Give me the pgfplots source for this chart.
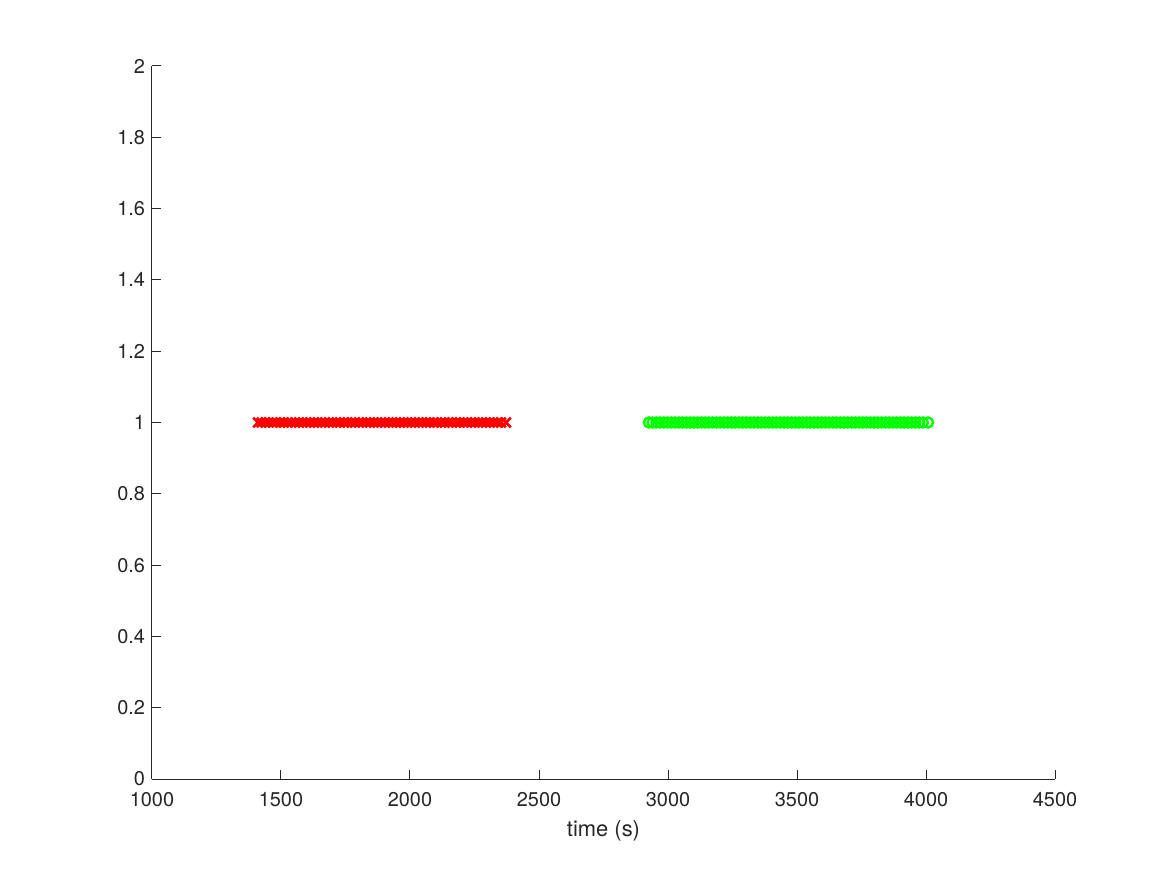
\documentclass[border=0pt]{standalone}
\usepackage{fontspec}
\setmainfont{TeX Gyre Heros}
\usepackage{pgfplots}
\pgfplotsset{compat=1.18}
\definecolor{axgray}{rgb}{0.15,0.15,0.15}
\definecolor{mred}{rgb}{1,0,0}
\definecolor{mgreen}{rgb}{0,1,0}
\begin{document}
\begin{tikzpicture}
\begin{axis}[
	scale only axis,
	width=451.5bp, height=356.5bp,
	xmin=1000, xmax=4500,
	ymin=0, ymax=2,
	xtick={1000,1500,...,4500},
	ytick={0,0.2,...,2},
	axis x line*=bottom,
	axis y line*=left,
	axis line style={axgray, line width=0.5bp, -},
	tick align=inside,
	major tick length=4.5bp,
	tick style={axgray, line width=0.5bp},
	tick label style={font=\fontsize{10}{12}\selectfont, text=axgray},
	xticklabel style={yshift=-3bp},
	/pgf/number format/assume math mode=true,
	/pgf/number format/1000 sep={},
	scaled x ticks=false,
	yticklabel style={/pgf/number format/fixed},
	xlabel={time (s)},
	xlabel style={font=\fontsize{11}{13}\selectfont, text=axgray},
	clip=false,
]
\addplot[only marks, mark=x, mark size=3.4bp, color=mred, line width=1.3bp] coordinates {
(1411,1) (1425,1) (1440,1) (1452,1) (1468,1) (1483,1) (1497,1) (1510,1)
(1526,1) (1541,1) (1555,1) (1570,1) (1584,1) (1599,1) (1613,1) (1628,1)
(1642,1) (1657,1) (1671,1) (1686,1) (1700,1) (1715,1) (1729,1) (1744,1)
(1758,1) (1773,1) (1787,1) (1802,1) (1816,1) (1831,1) (1845,1) (1860,1)
(1874,1) (1889,1) (1903,1) (1918,1) (1932,1) (1947,1) (1961,1) (1976,1)
(1990,1) (2005,1) (2019,1) (2034,1) (2048,1) (2063,1) (2077,1) (2092,1)
(2106,1) (2121,1) (2135,1) (2150,1) (2164,1) (2179,1) (2193,1) (2208,1)
(2222,1) (2237,1) (2251,1) (2266,1) (2280,1) (2295,1) (2309,1) (2324,1)
(2338,1) (2353,1) (2372,1)
};
\addplot[only marks, mark=o, mark size=2.5bp, color=mgreen, line width=1.2bp] coordinates {
(2926,1) (2940,1) (2955,1) (2969,1) (2984,1) (2998,1) (3013,1) (3027,1)
(3042,1) (3057,1) (3071,1) (3086,1) (3100,1) (3115,1) (3129,1) (3144,1)
(3158,1) (3173,1) (3188,1) (3202,1) (3217,1) (3231,1) (3246,1) (3260,1)
(3275,1) (3289,1) (3304,1) (3319,1) (3333,1) (3348,1) (3362,1) (3377,1)
(3391,1) (3406,1) (3420,1) (3435,1) (3450,1) (3464,1) (3479,1) (3493,1)
(3508,1) (3522,1) (3537,1) (3551,1) (3566,1) (3581,1) (3595,1) (3610,1)
(3624,1) (3639,1) (3653,1) (3668,1) (3682,1) (3697,1) (3712,1) (3726,1)
(3741,1) (3755,1) (3770,1) (3784,1) (3799,1) (3813,1) (3828,1) (3843,1)
(3857,1) (3872,1) (3886,1) (3901,1) (3915,1) (3930,1) (3944,1) (3959,1)
(3974,1) (3988,1) (4008,1)
};
\end{axis}
\pgfresetboundingbox
\path[use as bounding box] (-76bp,-48bp) rectangle (507.5bp,389.5bp);
\end{tikzpicture}
\end{document}
